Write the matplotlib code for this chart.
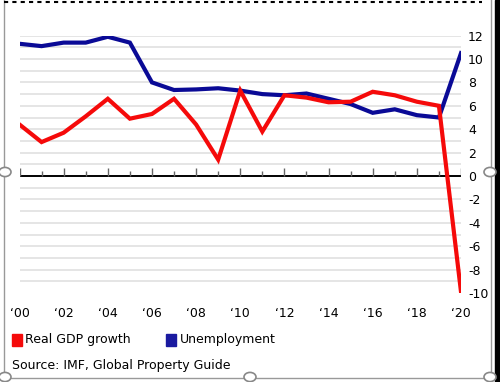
import matplotlib
matplotlib.use("Agg")
import matplotlib.pyplot as plt
from matplotlib.patches import Rectangle, Circle
from matplotlib.lines import Line2D

plt.rcParams['font.family'] = ['DejaVu Sans']
plt.rcParams['axes.unicode_minus'] = False

years = list(range(2000, 2021))
gdp = [4.4, 2.9, 3.7, 5.1, 6.6, 4.9, 5.3, 6.6, 4.4, 1.4, 7.3,
       3.8, 6.9, 6.7, 6.3, 6.35, 7.2, 6.9, 6.35, 6.0, -9.9]
unemp = [11.3, 11.1, 11.4, 11.4, 11.9, 11.4, 8.0, 7.35, 7.4, 7.5, 7.3,
         7.0, 6.9, 7.05, 6.6, 6.15, 5.4, 5.7, 5.2, 5.0, 10.5]
yticks = list(range(-10, 13, 2))
xlabels = ["\u2018%02d" % (y % 100) for y in years[::2]]

W, H = 500, 382
fig = plt.figure(figsize=(5, 3.82), dpi=100)

# plot area: 2000 at x=19.5px, 2020 at x=461px; 12 at y=35.6px, -10 at y=293px
ax = fig.add_axes([19.5 / W, 1 - 293 / H, (461 - 19.5) / W, (293 - 35.6) / H])
ax.set_xlim(2000, 2020)
ax.set_ylim(-10, 12)
for v in range(-9, 13):
    ax.axhline(v, color='#e3e3e3', lw=1.3, zorder=0)
ax.axhline(0, color='black', lw=1.4, zorder=1)
ax.vlines(years[::2], 0, 0.65, color='#666666', lw=1, zorder=1)
ax.vlines(years[1::2], 0, 0.4, color='#666666', lw=1, zorder=1)

ax.plot(years, unemp, color='#0a0a96', lw=3.0, solid_joinstyle='miter', zorder=3)
ax.plot(years, gdp, color='#f50a0a', lw=3.0, solid_joinstyle='miter', zorder=4)

for s in ax.spines.values():
    s.set_visible(False)
ax.yaxis.tick_right()
ax.set_yticks(yticks)
ax.set_yticklabels([str(t) for t in yticks])
ax.tick_params(axis='y', length=0, pad=5, labelsize=9)
ax.set_xticks(years[::2])
ax.set_xticklabels(xlabels)
ax.tick_params(axis='x', length=0, pad=10, labelsize=9)

# legend
fig.patches.append(Rectangle((12 / W, 1 - 346 / H), 10 / W, 12 / H,
                             transform=fig.transFigure, color='#f50a0a'))
fig.text(25 / W, 1 - 340 / H, "Real GDP growth", fontsize=9, va='center', ha='left')
fig.patches.append(Rectangle((166 / W, 1 - 346 / H), 10 / W, 12 / H,
                             transform=fig.transFigure, color='#1a1aa0'))
fig.text(180 / W, 1 - 340 / H, "Unemployment", fontsize=9, va='center', ha='left')
fig.text(12 / W, 1 - 365 / H, "Source: IMF, Global Property Guide", fontsize=9,
         va='center', ha='left')

# frame of the screenshot
fig.patches.append(Rectangle((495 / W, 0), 5 / W, 1, transform=fig.transFigure,
                             color='black'))
fig.lines.append(Line2D([4 / W, 4 / W], [0, 1], transform=fig.transFigure,
                        color='#999999', lw=1))
fig.lines.append(Line2D([491 / W, 491 / W], [0, 1], transform=fig.transFigure,
                        color='#999999', lw=1))
fig.lines.append(Line2D([0, 495 / W], [1 - 378 / H, 1 - 378 / H], transform=fig.transFigure,
                        color='#999999', lw=1))
fig.lines.append(Line2D([4 / W, 482 / W], [1 - 1.5 / H, 1 - 1.5 / H], transform=fig.transFigure,
                        color='black', lw=1.5, ls=(0, (2, 2))))
for cx, cy in [(5, 172), (490, 172), (5, 377), (250, 377), (490, 377)]:
    fig.patches.append(Circle((cx / W, 1 - cy / H), 6 / W, transform=fig.transFigure,
                              facecolor='white', edgecolor='#888888', lw=1.2, zorder=10))

fig.savefig("out.png", dpi=100)
